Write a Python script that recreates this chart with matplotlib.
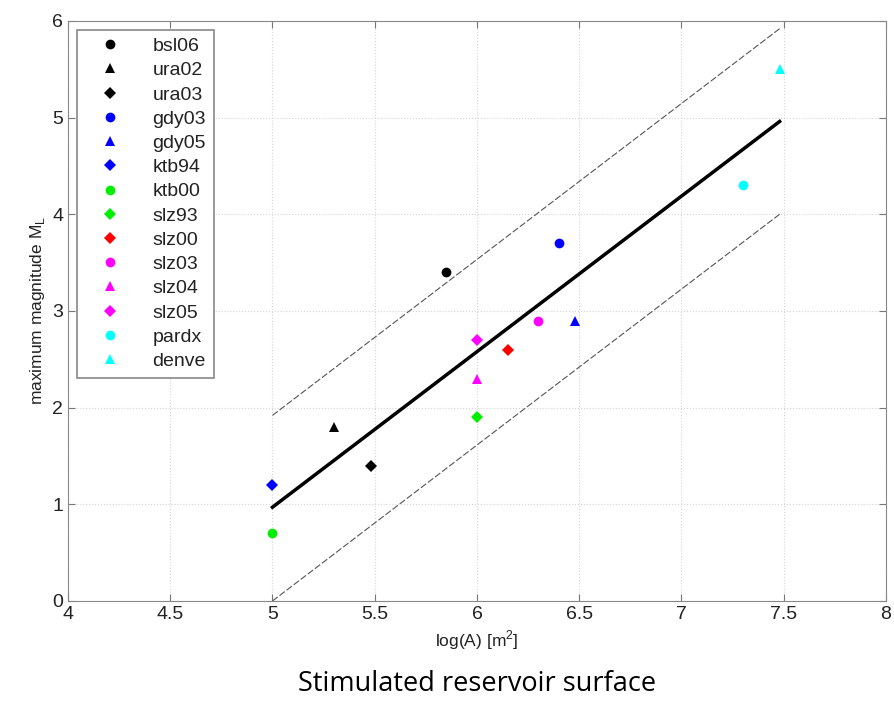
import matplotlib
matplotlib.use("Agg")
import matplotlib.pyplot as plt
import numpy as np

plt.rcParams["font.family"] = ["Liberation Sans", "DejaVu Sans"]

# data points
names = ["bsl06", "ura02", "ura03", "gdy03", "gdy05", "ktb94", "ktb00",
         "slz93", "slz00", "slz03", "slz04", "slz05", "pardx", "denve"]
log_area = [5.85, 5.30, 5.48, 6.40, 6.48, 5.00, 5.00,
            6.00, 6.15, 6.30, 6.00, 6.00, 7.30, 7.48]
max_mag = [3.4, 1.8, 1.4, 3.7, 2.9, 1.2, 0.7,
           1.9, 2.6, 2.9, 2.3, 2.7, 4.3, 5.5]
markers = ["o", "^", "D", "o", "^", "D", "o", "D", "D", "o", "^", "D", "o", "^"]
colors = ["black", "black", "black", "blue", "blue", "blue", "#00ee00",
          "#00ee00", "red", "magenta", "magenta", "magenta", "cyan", "cyan"]

# fit line and bounds
fit_x = [5.0, 7.48]
fit_y = [0.97, 4.96]
upper_y = [1.92, 5.92]
lower_y = [0.0, 4.0]

fig = plt.figure(figsize=(8.94, 7.22), dpi=100)
ax = fig.add_axes([0.076, 0.1676, 0.915, 0.8034])

for n, x, y, m, c in zip(names, log_area, max_mag, markers, colors):
    size = 7 if m != "D" else 6
    ax.plot(x, y, linestyle="none", marker=m, color=c, markersize=size,
            markeredgewidth=0, label=n)

ax.plot(fit_x, fit_y, color="black", linewidth=2.5)
ax.plot(fit_x, upper_y, color="#555555", linewidth=0.8, linestyle=(0, (6, 2)))
ax.plot(fit_x, lower_y, color="#555555", linewidth=0.8, linestyle=(0, (6, 2)))

ax.set_xlim(4, 8)
ax.set_ylim(0, 6)
ax.set_xticks(np.arange(4, 8.01, 0.5))
ax.set_xticklabels(["4", "4.5", "5", "5.5", "6", "6.5", "7", "7.5", "8"])
ax.set_yticks(range(0, 7))
ax.grid(True, linestyle=":", color="#d4d4d4", linewidth=0.8)
ax.tick_params(direction="in", top=True, right=True, length=5,
               color="#777777", labelsize=14, labelcolor="#222222")
for s in ax.spines.values():
    s.set_color("#888888")

ax.set_xlabel("log(A) [m$^\\mathregular{2}$]", fontsize=12.5, color="#222222")
ax.set_ylabel("maximum magnitude M$_\\mathregular{L}$", fontsize=12.5, color="#222222")

leg = ax.legend(loc="upper left", fontsize=14, fancybox=False, edgecolor="#888888",
                framealpha=1, labelspacing=0.34, handletextpad=0.9,
                borderaxespad=0.45, numpoints=1, handlelength=2.6,
                borderpad=0.4)
leg.get_frame().set_linewidth(1.2)
for t in leg.get_texts():
    t.set_color("#222222")

fig.text(0.534, 0.052, "Stimulated reservoir surface", ha="center", va="center",
         fontsize=19.5, family=["Open Sans", "DejaVu Sans"])

fig.savefig("out.png", dpi=100)
